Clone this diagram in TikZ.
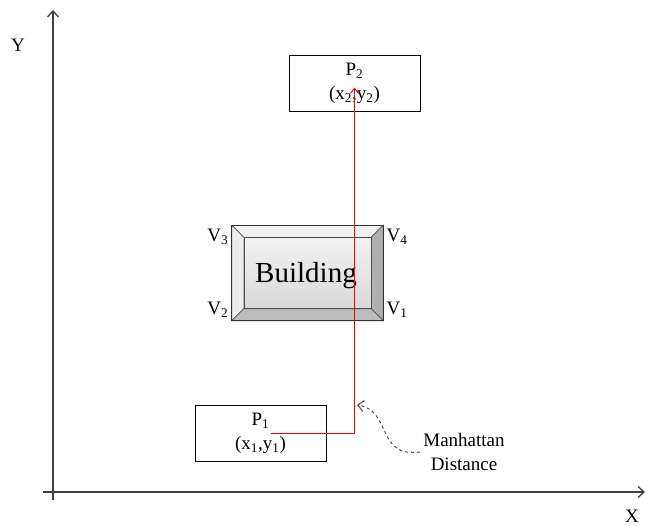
\documentclass[tikz,border=0pt]{standalone}
\usepackage{fontspec}
\setmainfont{Liberation Serif}
\usetikzlibrary{arrows.meta,calc,backgrounds}
\definecolor{axisgray}{HTML}{404040}
\tikzset{
  plan/.style={x=1pt,y=-1pt,font=\fontsize{19}{24}\selectfont},
  axis/.style={draw=axisgray,line width=1.3pt,-{Straight Barb[length=6pt,width=11pt]}},
  ptbox/.style={draw,line width=0.9pt,minimum width=131,minimum height=56,align=center,inner sep=2pt},
  building/.style={minimum width=151,minimum height=95,font=\fontsize{29}{32}\selectfont},
  bevel/.style={draw=black!70,line width=0.6pt},
  route/.style={draw=red,line width=1pt,-{Straight Barb[length=5pt,width=8pt]}},
  note/.style={draw=black!70,dashed,line width=1pt,-{Straight Barb[length=6pt,width=11pt]}},
}
\begin{document}
\begin{tikzpicture}[plan]
  \useasboundingbox (0,0) rectangle (650,525);
  \coordinate (ybot) at (53,500);
  \coordinate (ytop) at (53,10);
  \coordinate (xbeg) at (43,492);
  \coordinate (xend) at (645,492);
  \draw[axis] (ybot) -- (ytop);
  \draw[axis] (xbeg) -- (xend);
  \node (ylab) at (18,45) {Y};
  \node (xlab) at (632,516) {X};

  \node[ptbox] (p2) at (354.5,83.5) {P\textsubscript{2}\\(x\textsubscript{2},y\textsubscript{2})};
  \node[ptbox] (p1) at (260.5,433.5) {P\textsubscript{1}\\(x\textsubscript{1},y\textsubscript{1})};

  \node[building] (bld) at (307.5,273) {};
  \begin{scope}[on background layer]
    \coordinate (inw) at ($(bld.north west)+(12,12)$);
    \coordinate (ine) at ($(bld.north east)+(-12,12)$);
    \coordinate (ise) at ($(bld.south east)+(-12,-12)$);
    \coordinate (isw) at ($(bld.south west)+(12,-12)$);
    \path[bevel,fill=gray!10] (bld.north west) -- (bld.north east) -- (ine) -- (inw) -- cycle;
    \path[bevel,fill=gray!14] (bld.north west) -- (inw) -- (isw) -- (bld.south west) -- cycle;
    \path[bevel,fill=gray!62] (bld.north east) -- (bld.south east) -- (ise) -- (ine) -- cycle;
    \path[bevel,fill=gray!52] (bld.south west) -- (isw) -- (ise) -- (bld.south east) -- cycle;
    \path[bevel,top color=gray!10,bottom color=gray!30] (inw) rectangle (ise);
    \draw[black!80,line width=1.2pt] (bld.north west) rectangle (bld.south east);
  \end{scope}
  \node[font=\fontsize{29}{32}\selectfont] (bldtext) at (306,276) {Building};
  \node[anchor=north east] (v3) at (bld.north west) {V\textsubscript{3}};
  \node[anchor=north west] (v4) at (bld.north east) {V\textsubscript{4}};
  \node[anchor=south east] (v2) at (bld.south west) {V\textsubscript{2}};
  \node[anchor=south west] (v1) at (bld.south east) {V\textsubscript{1}};

  \draw[route] ([xshift=10pt]p1.center) -| ([yshift=-4pt]p2.center);

  \node[align=center] (md) at (464,452) {Manhattan\\Distance};
  \coordinate (mdtip) at (357,405);
  \draw[note] (md.west) .. controls (376,458) and (392,410) .. (mdtip);
\end{tikzpicture}
\end{document}
